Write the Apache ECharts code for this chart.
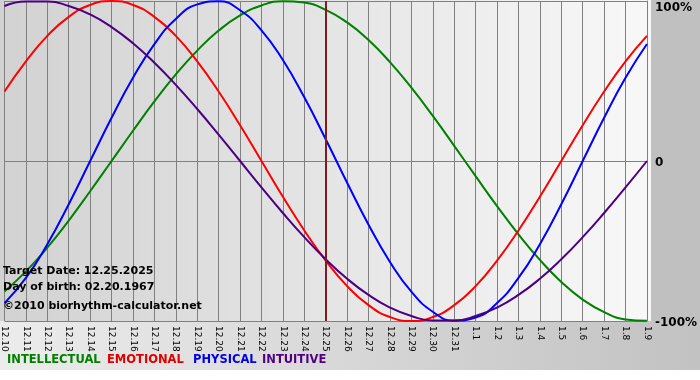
<!DOCTYPE html>
<html>
<head>
<meta charset="utf-8">
<script src="https://cdn.jsdelivr.net/npm/echarts@6/dist/echarts.min.js"></script>
<style>
html,body{margin:0;padding:0;background:#fff;}
#c{width:700px;height:380px;}
</style>
</head>
<body>
<div id="c"></div>
<script>
var categories = ['12.10','12.11','12.12','12.13','12.14','12.15','12.16','12.17','12.18','12.19','12.20','12.21','12.22','12.23','12.24','12.25','12.26','12.27','12.28','12.29','12.30','12.31','1.1','1.2','1.3','1.4','1.5','1.6','1.7','1.8','1.9'];
var intellectual = [-81.5,-69.0,-54.1,-37.2,-18.9,0,18.9,37.2,54.1,69.0,81.5,91.0,97.2,99.9,99.0,94.5,86.6,75.6,61.8,45.8,28.2,9.5,-9.5,-28.2,-45.8,-61.8,-75.6,-86.6,-94.5,-99.0,-99.9];
var emotional = [43.4,62.3,78.2,90.1,97.5,100,97.5,90.1,78.2,62.3,43.4,22.3,0,-22.3,-43.4,-62.3,-78.2,-90.1,-97.5,-100,-97.5,-90.1,-78.2,-62.3,-43.4,-22.3,0,22.3,43.4,62.3,78.2];
var physical = [-88.8,-73.1,-52.0,-27.0,0,27.0,52.0,73.1,88.8,97.9,99.8,94.2,81.7,63.1,39.8,13.6,-13.6,-39.8,-63.1,-81.7,-94.2,-99.8,-97.9,-88.8,-73.1,-52.0,-27.0,0,27.0,52.0,73.1];
var intuitive = [96.9,99.7,99.7,96.9,91.6,83.7,73.6,61.4,47.6,32.5,16.5,0,-16.5,-32.5,-47.6,-61.4,-73.6,-83.7,-91.6,-96.9,-99.7,-99.7,-96.9,-91.6,-83.7,-73.6,-61.4,-47.6,-32.5,-16.5,0];
var yTicks = {'100':'100%','0':'0','-100':'-100%'};
var targetDate = '12.25';
var infoLines = ['Target Date: 12.25.2025','Day of birth: 02.20.1967','\u00a92010 biorhythm-calculator.net'];
var legendNames = ['INTELLECTUAL','EMOTIONAL','PHYSICAL','INTUITIVE'];
var legendColors = ['#008000','#e00000','#0000e0','#500080'];
var legendLeft = [7, 107, 193, 262];

var chart = echarts.init(document.getElementById('c'), null, {renderer:'canvas'});
var gl = 0, gt = 1, gw = 651, gh = 320;

function line(name, data, color, extra){
  var s = {name:name, type:'line', data:data, smooth:true, showSymbol:false, symbol:'none',
    lineStyle:{color:color, width:2}, itemStyle:{color:color}, z:3};
  if (extra) for (var k in extra) s[k] = extra[k];
  return s;
}

var graphics = [
  {type:'rect', z:-20, silent:true, shape:{x:0,y:0,width:700,height:370},
    style:{fill:new echarts.graphic.LinearGradient(0,0,1,0,[{offset:0,color:'#ececec'},{offset:1,color:'#c2c2c2'}])}},
  {type:'rect', z:-19, silent:true, shape:{x:gl+gw,y:0,width:700-gl-gw,height:gt+gh},
    style:{fill:'#c0c0c0'}},
  {type:'rect', z:-18, silent:true, shape:{x:gl,y:0,width:gw,height:gt+gh},
    style:{fill:new echarts.graphic.LinearGradient(0,0,1,0,[{offset:0,color:'#d2d2d2'},{offset:1,color:'#f8f8f8'}])}},
  {type:'text', z:10, left:3, top:266, style:{text:infoLines[0], font:'bold 11px "DejaVu Sans"', fill:'#000'}},
  {type:'text', z:10, left:3, top:282, style:{text:infoLines[1], font:'bold 11px "DejaVu Sans"', fill:'#000'}},
  {type:'text', z:10, left:3, top:301, style:{text:infoLines[2], font:'bold 11px "DejaVu Sans"', fill:'#000'}}
];
legendNames.forEach(function(n, i){
  graphics.push({type:'text', z:10, left:legendLeft[i], top:354,
    style:{text:n, font:'bold 11.5px "DejaVu Sans"', fill:legendColors[i]}});
});

chart.setOption({
  animation:false,
  backgroundColor:'transparent',
  graphic:graphics,
  grid:{left:gl, top:gt, width:gw, height:gh, containLabel:false},
  xAxis:{
    type:'category', data:categories, boundaryGap:false,
    axisLine:{show:true, lineStyle:{color:'#808080', width:1}},
    axisTick:{show:true, length:4, lineStyle:{color:'#808080'}},
    axisLabel:{rotate:-90, interval:0, fontSize:9, fontFamily:'DejaVu Sans', color:'#000', margin:5},
    splitLine:{show:true, interval:0, lineStyle:{color:'#808080', width:1}}
  },
  yAxis:{
    type:'value', position:'right', min:-100, max:100, interval:100,
    axisLine:{show:true, lineStyle:{color:'#808080'}},
    axisTick:{show:false},
    splitLine:{show:true, lineStyle:{color:'#808080', width:1}},
    axisLabel:{
      margin:8, color:'#000', fontFamily:'DejaVu Sans', fontWeight:'bold', fontSize:12,
      formatter:function(v){
        var t = yTicks[String(v)];
        if (v === 100) return '{top|'+t+'}';
        return '{mid|'+t+'}';
      },
      rich:{
        top:{fontFamily:'DejaVu Sans', fontWeight:'bold', fontSize:12, color:'#000', padding:[13,0,0,0]},
        mid:{fontFamily:'DejaVu Sans', fontWeight:'bold', fontSize:12, color:'#000', padding:[3,0,0,0]}
      }
    }
  },
  series:[
    line('INTELLECTUAL', intellectual, '#008000'),
    line('EMOTIONAL', emotional, '#ff0000'),
    line('PHYSICAL', physical, '#0000ff'),
    line('INTUITIVE', intuitive, '#4b0082', {
      markLine:{silent:true, symbol:'none', label:{show:false},
        lineStyle:{color:'#7a1e1e', width:2, type:'solid'},
        data:[{xAxis:targetDate}]}
    })
  ]
});
</script>
</body>
</html>
